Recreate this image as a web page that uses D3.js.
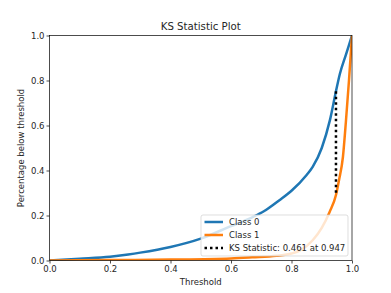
<!DOCTYPE html>
<html>
<head>
<meta charset="utf-8">
<script src="https://cdn.jsdelivr.net/npm/d3@7"></script>
<style>
  body { margin: 0; background: #fff; }
  text { font-family: "DejaVu Sans", sans-serif; fill: #262626; }
</style>
</head>
<body>
<div id="chart"></div>
<script>
// values
const class0Thresholds = [0, 0.1, 0.2, 0.26, 0.3, 0.4, 0.5, 0.6, 0.67, 0.71, 0.76, 0.8, 0.85, 0.87, 0.9, 0.927, 0.947, 0.96, 0.98, 1.0];
const class0Values     = [0, 0.008, 0.017, 0.027, 0.035, 0.06, 0.097, 0.153, 0.192, 0.22, 0.268, 0.31, 0.38, 0.416, 0.5, 0.624, 0.752, 0.83, 0.915, 1.0];
const class1Thresholds = [0, 0.2, 0.4, 0.6, 0.67, 0.75, 0.8, 0.83, 0.87, 0.9, 0.926, 0.947, 0.957, 0.97, 0.98, 0.99, 1.0];
const class1Values     = [0, 0.002, 0.004, 0.009, 0.014, 0.021, 0.031, 0.046, 0.09, 0.145, 0.216, 0.291, 0.357, 0.46, 0.62, 0.8, 1.0];
const ksThreshold = 0.947;
const ksTop = 0.752, ksBottom = 0.291;
const xTicks = [0, 0.2, 0.4, 0.6, 0.8, 1.0];
const yTicks = [0, 0.2, 0.4, 0.6, 0.8, 1.0];
const legendLabels = ['Class 0', 'Class 1', 'KS Statistic: 0.461 at 0.947'];

const W = 391, H = 293;
const margin = {top: 35.5, right: 39, bottom: 32.5, left: 49.5};
const width = W - margin.left - margin.right;
const height = H - margin.top - margin.bottom;

const svg = d3.select('#chart').append('svg')
	.attr('width', W)
	.attr('height', H);

const g = svg.append('g')
	.attr('transform', `translate(${margin.left},${margin.top})`);

const x = d3.scaleLinear().domain([0, 1]).range([0, width]);
const y = d3.scaleLinear().domain([0, 1]).range([height, 0]);

g.append('clipPath').attr('id', 'clip')
	.append('rect').attr('width', width).attr('height', height);

const line = d3.line()
	.x(d => x(d[0]))
	.y(d => y(d[1]))
	.curve(d3.curveMonotoneX);

const plot = g.append('g').attr('clip-path', 'url(#clip)');

plot.append('path')
	.datum(d3.zip(class0Thresholds, class0Values))
	.attr('d', line)
	.attr('fill', 'none')
	.attr('stroke', '#1f77b4')
	.attr('stroke-width', 2.5);

plot.append('path')
	.datum(d3.zip(class1Thresholds, class1Values))
	.attr('d', line)
	.attr('fill', 'none')
	.attr('stroke', '#ff7f0e')
	.attr('stroke-width', 2.5);

plot.append('line')
	.attr('x1', x(ksThreshold)).attr('x2', x(ksThreshold))
	.attr('y1', y(ksTop)).attr('y2', y(ksBottom))
	.attr('stroke', '#000')
	.attr('stroke-width', 2.5)
	.attr('stroke-dasharray', '2.5,3');

// axes
const xAxis = g.append('g')
	.attr('transform', `translate(0,${height})`)
	.call(d3.axisBottom(x).tickValues(xTicks).tickFormat(d3.format('.1f')).tickSize(3).tickPadding(2));
const yAxis = g.append('g')
	.call(d3.axisLeft(y).tickValues(yTicks).tickFormat(d3.format('.1f')).tickSize(3).tickPadding(2));

[xAxis, yAxis].forEach(a => {
	a.select('.domain').remove();
	a.selectAll('line').attr('stroke', '#000').attr('stroke-width', 0.7);
	a.selectAll('text').attr('font-size', '8.5px').attr('fill', '#262626')
		.style('font-family', '"DejaVu Sans", sans-serif');
});

g.append('rect')
	.attr('width', width).attr('height', height)
	.attr('fill', 'none')
	.attr('stroke', '#000')
	.attr('stroke-width', 0.7);

// title and labels
svg.append('text')
	.attr('x', margin.left + width / 2).attr('y', 29.5)
	.attr('text-anchor', 'middle')
	.attr('font-size', '10.2px')
	.text('KS Statistic Plot');

svg.append('text')
	.attr('x', margin.left + width / 2).attr('y', 284.5)
	.attr('text-anchor', 'middle')
	.attr('font-size', '8.5px')
	.text('Threshold');

svg.append('text')
	.attr('transform', `translate(23.5,${margin.top + height / 2}) rotate(-90)`)
	.attr('text-anchor', 'middle')
	.attr('font-size', '8.5px')
	.text('Percentage below threshold');

// legend
const legend = g.append('g')
	.attr('transform', `translate(${201 - margin.left},${215 - margin.top})`);

legend.append('rect')
	.attr('width', 147).attr('height', 41)
	.attr('rx', 2)
	.attr('fill', 'rgba(255,255,255,0.8)')
	.attr('stroke', '#d0d0d0')
	.attr('stroke-width', 0.7);

const legendStyles = [
	{stroke: '#1f77b4', dash: null},
	{stroke: '#ff7f0e', dash: null},
	{stroke: '#000', dash: '2.5,3'}
];

legend.selectAll('.item')
	.data(legendLabels)
	.enter().append('g')
		.attr('class', 'item')
		.attr('transform', (d, i) => `translate(0,${7 + i * 13})`)
		.each(function(d, i) {
			const item = d3.select(this);
			item.append('line')
				.attr('x1', 3.5).attr('x2', 22)
				.attr('stroke', legendStyles[i].stroke)
				.attr('stroke-width', 2.5)
				.attr('stroke-dasharray', legendStyles[i].dash);
			item.append('text')
				.attr('x', 28)
				.attr('dy', '0.35em')
				.attr('font-size', '8.5px')
				.text(d);
		});
</script>
</body>
</html>
